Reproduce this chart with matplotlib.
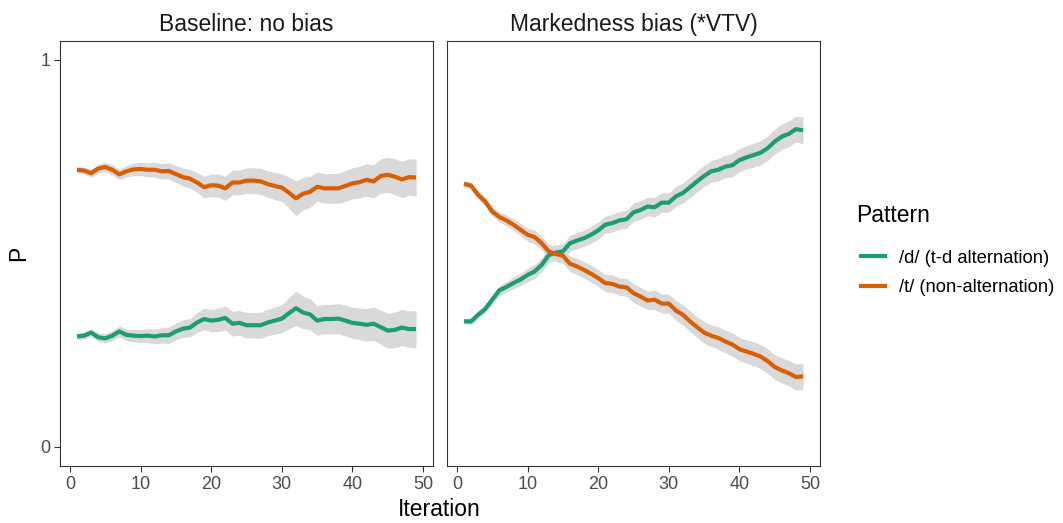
import numpy as np
import matplotlib.pyplot as plt
from matplotlib.lines import Line2D

plt.rcParams['font.family'] = ['Liberation Sans', 'DejaVu Sans']

iteration = np.arange(1, 50)

panel_titles = ['Baseline: no bias', 'Markedness bias (*VTV)']
series_labels = ['/d/ (t-d alternation)', '/t/ (non-alternation)']
colors = ['#1B9E77', '#D95F02']

# Baseline panel
base_d = [0.285, 0.287, 0.295, 0.283, 0.280, 0.287, 0.298, 0.289, 0.287, 0.286,
          0.287, 0.285, 0.288, 0.288, 0.298, 0.305, 0.308, 0.321, 0.330, 0.326,
          0.328, 0.333, 0.318, 0.320, 0.314, 0.314, 0.314, 0.321, 0.326, 0.331,
          0.345, 0.358, 0.347, 0.342, 0.326, 0.330, 0.330, 0.331, 0.326, 0.320,
          0.318, 0.315, 0.318, 0.309, 0.300, 0.302, 0.308, 0.304, 0.304]
base_t = [0.716, 0.714, 0.707, 0.719, 0.723, 0.716, 0.704, 0.712, 0.717, 0.718,
          0.716, 0.716, 0.712, 0.713, 0.705, 0.697, 0.693, 0.683, 0.671, 0.676,
          0.675, 0.668, 0.683, 0.683, 0.688, 0.688, 0.686, 0.679, 0.674, 0.670,
          0.657, 0.642, 0.654, 0.659, 0.672, 0.668, 0.668, 0.668, 0.674, 0.681,
          0.684, 0.690, 0.686, 0.700, 0.703, 0.698, 0.691, 0.697, 0.696]
base_se = [0.008, 0.009, 0.010, 0.011, 0.012, 0.013, 0.014, 0.015, 0.016, 0.017,
           0.018, 0.019, 0.020, 0.021, 0.022, 0.023, 0.024, 0.026, 0.028, 0.029,
           0.030, 0.031, 0.032, 0.032, 0.033, 0.033, 0.034, 0.034, 0.035, 0.036,
           0.040, 0.045, 0.042, 0.040, 0.038, 0.038, 0.038, 0.039, 0.040, 0.040,
           0.041, 0.042, 0.043, 0.044, 0.045, 0.046, 0.047, 0.047, 0.048]

# Markedness bias panel
mark_d = [0.324, 0.324, 0.341, 0.356, 0.380, 0.404, 0.413, 0.423, 0.432, 0.444,
          0.453, 0.470, 0.495, 0.502, 0.505, 0.526, 0.533, 0.539, 0.548, 0.559,
          0.574, 0.578, 0.585, 0.588, 0.606, 0.612, 0.621, 0.619, 0.631, 0.631,
          0.647, 0.656, 0.671, 0.686, 0.700, 0.712, 0.716, 0.724, 0.728, 0.741,
          0.748, 0.754, 0.760, 0.772, 0.789, 0.802, 0.809, 0.821, 0.818]
mark_t = [0.680, 0.675, 0.651, 0.634, 0.608, 0.594, 0.585, 0.574, 0.561, 0.548,
          0.542, 0.526, 0.505, 0.498, 0.494, 0.473, 0.466, 0.457, 0.447, 0.436,
          0.423, 0.421, 0.414, 0.412, 0.397, 0.388, 0.378, 0.380, 0.370, 0.370,
          0.352, 0.341, 0.324, 0.309, 0.295, 0.287, 0.281, 0.272, 0.264, 0.252,
          0.246, 0.240, 0.233, 0.221, 0.206, 0.197, 0.190, 0.180, 0.182]
mark_se = [0.007, 0.008, 0.010, 0.011, 0.012, 0.013, 0.014, 0.015, 0.016, 0.017,
           0.018, 0.018, 0.019, 0.019, 0.020, 0.020, 0.021, 0.021, 0.022, 0.022,
           0.022, 0.023, 0.023, 0.023, 0.024, 0.024, 0.024, 0.025, 0.025, 0.025,
           0.026, 0.026, 0.027, 0.027, 0.028, 0.028, 0.029, 0.029, 0.030, 0.030,
           0.030, 0.031, 0.031, 0.032, 0.032, 0.033, 0.033, 0.034, 0.034]

panels = [(base_d, base_t, base_se), (mark_d, mark_t, mark_se)]

fig = plt.figure(figsize=(10.63, 5.23), dpi=100)
W, H = 1063, 523
lefts = [60, 447]
pw = 373
top, bottom = 40.6, 466

for k, (d, t, se) in enumerate(panels):
    ax = fig.add_axes([lefts[k] / W, 1 - bottom / H, pw / W, (bottom - top) / H])
    for vals, c in zip([d, t], colors):
        vals = np.array(vals)
        s = np.array(se)
        ax.fill_between(iteration, vals - s, vals + s, color='#d9d9d9', lw=0, zorder=1)
    for vals, c in zip([d, t], colors):
        ax.plot(iteration, vals, color=c, lw=3, solid_capstyle='butt', zorder=2)
    ax.set_xlim(-1.4, 51.4)
    ax.set_ylim(-0.05, 1.05)
    ax.set_xticks([0, 10, 20, 30, 40, 50])
    ax.set_yticks([0, 1])
    ax.tick_params(colors='#333333', labelcolor='#4d4d4d', labelsize=13,
                   length=4, width=0.8, pad=3)
    for sp in ax.spines.values():
        sp.set_color('#333333')
        sp.set_linewidth(0.8)
    if k == 1:
        ax.tick_params(axis='y', left=False, labelleft=False)
    ax.set_title(panel_titles[k], fontsize=16.5, color='#1a1a1a', pad=7)

fig.text(439 / W, 1 - 510 / H, 'Iteration', fontsize=16.5, ha='center', va='center')
fig.text(19 / W, 1 - 253 / H, 'P', fontsize=16.5, ha='center', va='center', rotation=90)

# legend: title as separate text, entries via legend
fig.text(856 / W, 1 - 216 / H, 'Pattern', fontsize=16.5, ha='left', va='center')
handles = [Line2D([], [], color=c, lw=3) for c in colors]
leg = fig.legend(handles, series_labels, loc='center left',
                 bbox_to_anchor=(846 / W, 1 - 273 / H), frameon=False,
                 fontsize=13.2, handlelength=1.35, labelspacing=0.68,
                 handletextpad=0.75, borderpad=0.3)

fig.savefig('out.png', dpi=100)
